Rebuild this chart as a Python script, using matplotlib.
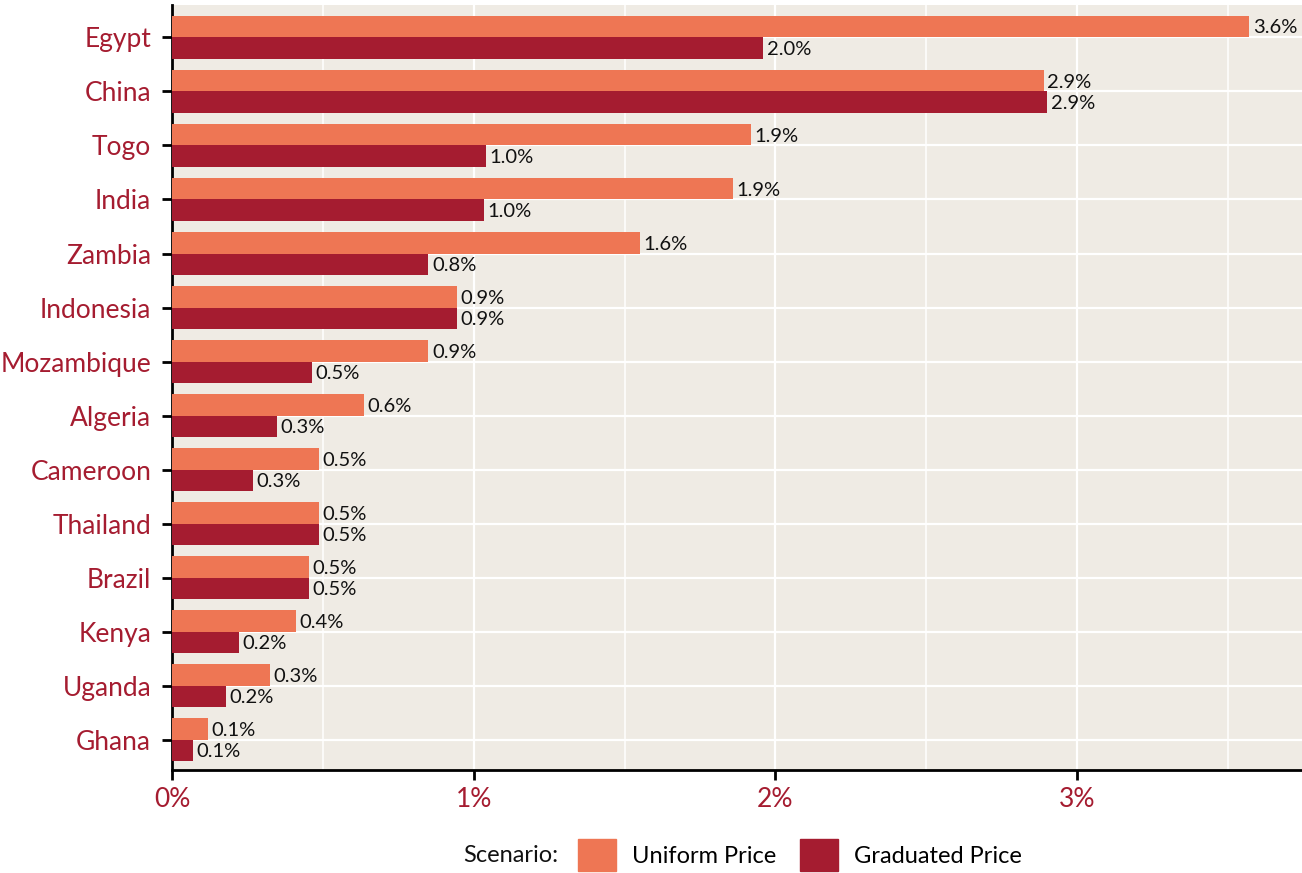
import numpy as np
import matplotlib
matplotlib.use("Agg")
import matplotlib.pyplot as plt
from matplotlib.patches import Patch
from matplotlib.ticker import MultipleLocator, FuncFormatter

plt.rcParams['font.family'] = ['Lato', 'DejaVu Sans']

# data (percent)
countries = ["Egypt", "China", "Togo", "India", "Zambia", "Indonesia", "Mozambique",
             "Algeria", "Cameroon", "Thailand", "Brazil", "Kenya", "Uganda", "Ghana"]
uniform = [3.57, 2.89, 1.92, 1.86, 1.55, 0.945, 0.85, 0.635, 0.487, 0.487, 0.455, 0.41, 0.325, 0.12]
graduated = [1.96, 2.90, 1.04, 1.035, 0.85, 0.945, 0.465, 0.348, 0.268, 0.487, 0.455, 0.222, 0.18, 0.07]
uniform_lbl = ["3.6%", "2.9%", "1.9%", "1.9%", "1.6%", "0.9%", "0.9%", "0.6%", "0.5%", "0.5%", "0.5%", "0.4%", "0.3%", "0.1%"]
graduated_lbl = ["2.0%", "2.9%", "1.0%", "1.0%", "0.8%", "0.9%", "0.5%", "0.3%", "0.3%", "0.5%", "0.5%", "0.2%", "0.2%", "0.1%"]
scenarios = ["Uniform Price", "Graduated Price"]

c_uni = "#EE7654"
c_grad = "#A51C30"
bg = "#EFEBE4"
txt = "#A51C30"

fig = plt.figure(figsize=(13.02, 8.73), dpi=100)
ax = fig.add_axes([172/1302, 1 - 770/873, 1 - 172/1302, (770 - 5)/873])
ax.set_facecolor(bg)

n = len(countries)
y = np.arange(n)[::-1]
h = 0.4

ax.barh(y + h/2, uniform, height=h, color=c_uni, zorder=3)
ax.barh(y - h/2, graduated, height=h, color=c_grad, zorder=3)

for yi, v, s in zip(y, uniform, uniform_lbl):
    ax.annotate(s, (v, yi + h/2), xytext=(2.5, -1), textcoords="offset points",
                va="center", ha="left", fontsize=14.5, color="#111111", zorder=4)
for yi, v, s in zip(y, graduated, graduated_lbl):
    ax.annotate(s, (v, yi - h/2), xytext=(2.5, -1), textcoords="offset points",
                va="center", ha="left", fontsize=14.5, color="#111111", zorder=4)

ax.set_xlim(0, 3.745)
ax.set_ylim(-0.56, n - 1 + 0.6)
ax.set_yticks(y)
ax.set_yticklabels(countries)
ax.xaxis.set_major_locator(MultipleLocator(1))
ax.xaxis.set_minor_locator(MultipleLocator(0.5))
ax.xaxis.set_major_formatter(FuncFormatter(lambda v, p: f"{v:.0f}%"))

ax.grid(True, which="major", color="white", linewidth=1.6, zorder=1)
ax.grid(True, which="minor", axis="x", color="white", linewidth=1.1, zorder=1)
ax.set_axisbelow(True)

for s in ["top", "right"]:
    ax.spines[s].set_visible(False)
for s in ["left", "bottom"]:
    ax.spines[s].set_linewidth(2)
    ax.spines[s].set_color("black")

ax.tick_params(axis="both", which="major", length=7, width=2, color="black",
               labelsize=19, labelcolor=txt, pad=5)
ax.tick_params(axis="x", which="minor", length=0)
ax.tick_params(axis="y", pad=8)

# legend: title on the left, entries in a row
fig.text(558/1302, 1 - 855/873, "Scenario:", ha="right", va="center", fontsize=17, color="#111111")
handles = [Patch(color=c_uni), Patch(color=c_grad)]
fig.legend(handles, scenarios, loc="center left", bbox_to_anchor=(578/1302, 1 - 855/873),
           ncol=2, frameon=False, fontsize=17, borderpad=0, borderaxespad=0,
           handlelength=1.6, handleheight=1.65, handletextpad=0.7, columnspacing=1.0)

fig.savefig("out.png", dpi=100)
